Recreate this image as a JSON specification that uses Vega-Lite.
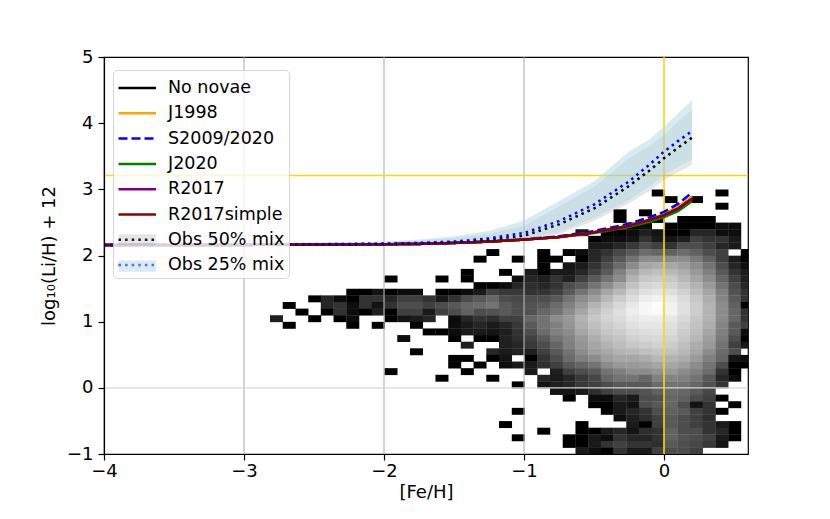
{
  "$schema": "https://vega.github.io/schema/vega-lite/v6.json",
  "width": 644,
  "height": 397,
  "autosize": {"type": "none"},
  "padding": {"left": 104, "top": 57, "right": 82, "bottom": 65},
  "config": {
    "font": "DejaVu Sans",
    "view": {"stroke": "#000000", "strokeWidth": 1.2},
    "axis": {
      "grid": false,
      "domainColor": "#000000",
      "domainWidth": 1.2,
      "tickColor": "#000000",
      "tickWidth": 1.2,
      "tickSize": 6,
      "labelFontSize": 18,
      "labelColor": "#000000",
      "labelFlush": false,
      "titleFontSize": 18,
      "titleFontWeight": "normal",
      "titleColor": "#000000"
    }
  },
  "datasets": {
    "cells": [
      {"x": -0.091, "y": 2.9, "v": 0}, {"x": 0.364, "y": 2.9, "v": 0},
      {"x": 0, "y": 2.8, "v": 0}, {"x": 0.182, "y": 2.8, "v": 0},
      {"x": 0.364, "y": 2.7, "v": 0},
      {"x": -0.364, "y": 2.6, "v": 0}, {"x": -0.182, "y": 2.6, "v": 0},
      {"x": -0.364, "y": 2.5, "v": 0}, {"x": -0.091, "y": 2.5, "v": 0}, {"x": 0.091, "y": 2.5, "v": 0}, {"x": 0.182, "y": 2.5, "v": 0}, {"x": 0.273, "y": 2.5, "v": 0},
      {"x": -0.273, "y": 2.4, "v": 0}, {"x": -0.182, "y": 2.4, "v": 0.05}, {"x": 0, "y": 2.4, "v": 0}, {"x": 0.091, "y": 2.4, "v": 0}, {"x": 0.182, "y": 2.4, "v": 0}, {"x": 0.273, "y": 2.4, "v": 0}, {"x": 0.364, "y": 2.4, "v": 0.05}, {"x": 0.455, "y": 2.4, "v": 0.05},
      {"x": -0.636, "y": 2.3, "v": 0.1}, {"x": -0.455, "y": 2.3, "v": 0}, {"x": -0.364, "y": 2.3, "v": 0}, {"x": -0.273, "y": 2.3, "v": 0.05}, {"x": -0.182, "y": 2.3, "v": 0.12}, {"x": -0.091, "y": 2.3, "v": 0.08}, {"x": 0, "y": 2.3, "v": 0}, {"x": 0.091, "y": 2.3, "v": 0}, {"x": 0.182, "y": 2.3, "v": 0.15}, {"x": 0.273, "y": 2.3, "v": 0.15}, {"x": 0.364, "y": 2.3, "v": 0.05}, {"x": 0.455, "y": 2.3, "v": 0.05},
      {"x": -0.545, "y": 2.2, "v": 0}, {"x": -0.455, "y": 2.2, "v": 0.05}, {"x": -0.364, "y": 2.2, "v": 0.05}, {"x": -0.273, "y": 2.2, "v": 0.08}, {"x": -0.182, "y": 2.2, "v": 0.2}, {"x": -0.091, "y": 2.2, "v": 0.1}, {"x": 0, "y": 2.2, "v": 0.08}, {"x": 0.091, "y": 2.2, "v": 0.12}, {"x": 0.182, "y": 2.2, "v": 0.25}, {"x": 0.273, "y": 2.2, "v": 0.2}, {"x": 0.364, "y": 2.2, "v": 0.2}, {"x": 0.455, "y": 2.2, "v": 0.1},
      {"x": -0.545, "y": 2.1, "v": 0.1}, {"x": -0.455, "y": 2.1, "v": 0.1}, {"x": -0.364, "y": 2.1, "v": 0.15}, {"x": -0.273, "y": 2.1, "v": 0.22}, {"x": -0.182, "y": 2.1, "v": 0.3}, {"x": -0.091, "y": 2.1, "v": 0.25}, {"x": 0, "y": 2.1, "v": 0.2}, {"x": 0.091, "y": 2.1, "v": 0.3}, {"x": 0.182, "y": 2.1, "v": 0.3}, {"x": 0.273, "y": 2.1, "v": 0.25}, {"x": 0.364, "y": 2.1, "v": 0.15}, {"x": 0.455, "y": 2.1, "v": 0.1},
      {"x": -1.273, "y": 2.0, "v": 0}, {"x": -0.909, "y": 2.0, "v": 0}, {"x": -0.727, "y": 2.0, "v": 0}, {"x": -0.636, "y": 2.0, "v": 0.05}, {"x": -0.545, "y": 2.0, "v": 0.15}, {"x": -0.455, "y": 2.0, "v": 0.2}, {"x": -0.364, "y": 2.0, "v": 0.28}, {"x": -0.273, "y": 2.0, "v": 0.35}, {"x": -0.182, "y": 2.0, "v": 0.42}, {"x": -0.091, "y": 2.0, "v": 0.4}, {"x": 0, "y": 2.0, "v": 0.38}, {"x": 0.091, "y": 2.0, "v": 0.42}, {"x": 0.182, "y": 2.0, "v": 0.38}, {"x": 0.273, "y": 2.0, "v": 0.3}, {"x": 0.364, "y": 2.0, "v": 0.25}, {"x": 0.545, "y": 2.0, "v": 0},
      {"x": -1.364, "y": 1.9, "v": 0}, {"x": -1.091, "y": 1.9, "v": 0}, {"x": -0.909, "y": 1.9, "v": 0}, {"x": -0.818, "y": 1.9, "v": 0}, {"x": -0.636, "y": 1.9, "v": 0}, {"x": -0.545, "y": 1.9, "v": 0.15}, {"x": -0.455, "y": 1.9, "v": 0.25}, {"x": -0.364, "y": 1.9, "v": 0.35}, {"x": -0.273, "y": 1.9, "v": 0.45}, {"x": -0.182, "y": 1.9, "v": 0.55}, {"x": -0.091, "y": 1.9, "v": 0.55}, {"x": 0, "y": 1.9, "v": 0.55}, {"x": 0.091, "y": 1.9, "v": 0.55}, {"x": 0.182, "y": 1.9, "v": 0.48}, {"x": 0.273, "y": 1.9, "v": 0.38}, {"x": 0.364, "y": 1.9, "v": 0.25}, {"x": 0.455, "y": 1.9, "v": 0.1}, {"x": 0.545, "y": 1.9, "v": 0},
      {"x": -0.909, "y": 1.8, "v": 0}, {"x": -0.727, "y": 1.8, "v": 0.08}, {"x": -0.636, "y": 1.8, "v": 0.1}, {"x": -0.545, "y": 1.8, "v": 0.2}, {"x": -0.455, "y": 1.8, "v": 0.3}, {"x": -0.364, "y": 1.8, "v": 0.42}, {"x": -0.273, "y": 1.8, "v": 0.55}, {"x": -0.182, "y": 1.8, "v": 0.65}, {"x": -0.091, "y": 1.8, "v": 0.68}, {"x": 0, "y": 1.8, "v": 0.66}, {"x": 0.091, "y": 1.8, "v": 0.62}, {"x": 0.182, "y": 1.8, "v": 0.55}, {"x": 0.273, "y": 1.8, "v": 0.45}, {"x": 0.364, "y": 1.8, "v": 0.3}, {"x": 0.455, "y": 1.8, "v": 0.15}, {"x": 0.545, "y": 1.8, "v": 0.05},
      {"x": -1.455, "y": 1.7, "v": 0}, {"x": -1.182, "y": 1.7, "v": 0}, {"x": -1.0, "y": 1.7, "v": 0.1}, {"x": -0.909, "y": 1.7, "v": 0}, {"x": -0.818, "y": 1.7, "v": 0.1}, {"x": -0.727, "y": 1.7, "v": 0.1}, {"x": -0.636, "y": 1.7, "v": 0.15}, {"x": -0.545, "y": 1.7, "v": 0.25}, {"x": -0.455, "y": 1.7, "v": 0.35}, {"x": -0.364, "y": 1.7, "v": 0.5}, {"x": -0.273, "y": 1.7, "v": 0.64}, {"x": -0.182, "y": 1.7, "v": 0.72}, {"x": -0.091, "y": 1.7, "v": 0.75}, {"x": 0, "y": 1.7, "v": 0.72}, {"x": 0.091, "y": 1.7, "v": 0.68}, {"x": 0.182, "y": 1.7, "v": 0.6}, {"x": 0.273, "y": 1.7, "v": 0.5}, {"x": 0.364, "y": 1.7, "v": 0.35}, {"x": 0.455, "y": 1.7, "v": 0.2}, {"x": 0.545, "y": 1.7, "v": 0.1},
      {"x": -2.0, "y": 1.6, "v": 0}, {"x": -1.636, "y": 1.6, "v": 0}, {"x": -1.455, "y": 1.6, "v": 0}, {"x": -1.091, "y": 1.6, "v": 0.05}, {"x": -1.0, "y": 1.6, "v": 0.15}, {"x": -0.909, "y": 1.6, "v": 0.12}, {"x": -0.818, "y": 1.6, "v": 0.2}, {"x": -0.727, "y": 1.6, "v": 0.12}, {"x": -0.636, "y": 1.6, "v": 0.25}, {"x": -0.545, "y": 1.6, "v": 0.35}, {"x": -0.455, "y": 1.6, "v": 0.45}, {"x": -0.364, "y": 1.6, "v": 0.55}, {"x": -0.273, "y": 1.6, "v": 0.7}, {"x": -0.182, "y": 1.6, "v": 0.78}, {"x": -0.091, "y": 1.6, "v": 0.8}, {"x": 0, "y": 1.6, "v": 0.78}, {"x": 0.091, "y": 1.6, "v": 0.72}, {"x": 0.182, "y": 1.6, "v": 0.65}, {"x": 0.273, "y": 1.6, "v": 0.55}, {"x": 0.364, "y": 1.6, "v": 0.4}, {"x": 0.455, "y": 1.6, "v": 0.25}, {"x": 0.545, "y": 1.6, "v": 0.12},
      {"x": -1.364, "y": 1.5, "v": 0}, {"x": -1.273, "y": 1.5, "v": 0}, {"x": -1.182, "y": 1.5, "v": 0.05}, {"x": -1.091, "y": 1.5, "v": 0.15}, {"x": -1.0, "y": 1.5, "v": 0.18}, {"x": -0.909, "y": 1.5, "v": 0.15}, {"x": -0.818, "y": 1.5, "v": 0.2}, {"x": -0.727, "y": 1.5, "v": 0.3}, {"x": -0.636, "y": 1.5, "v": 0.35}, {"x": -0.545, "y": 1.5, "v": 0.45}, {"x": -0.455, "y": 1.5, "v": 0.55}, {"x": -0.364, "y": 1.5, "v": 0.65}, {"x": -0.273, "y": 1.5, "v": 0.76}, {"x": -0.182, "y": 1.5, "v": 0.83}, {"x": -0.091, "y": 1.5, "v": 0.85}, {"x": 0, "y": 1.5, "v": 0.82}, {"x": 0.091, "y": 1.5, "v": 0.77}, {"x": 0.182, "y": 1.5, "v": 0.7}, {"x": 0.273, "y": 1.5, "v": 0.6}, {"x": 0.364, "y": 1.5, "v": 0.45}, {"x": 0.455, "y": 1.5, "v": 0.3}, {"x": 0.545, "y": 1.5, "v": 0.15},
      {"x": -2.273, "y": 1.4, "v": 0}, {"x": -2.182, "y": 1.4, "v": 0}, {"x": -2.091, "y": 1.4, "v": 0.08}, {"x": -2.0, "y": 1.4, "v": 0}, {"x": -1.909, "y": 1.4, "v": 0.05}, {"x": -1.818, "y": 1.4, "v": 0.05}, {"x": -1.636, "y": 1.4, "v": 0}, {"x": -1.545, "y": 1.4, "v": 0}, {"x": -1.455, "y": 1.4, "v": 0.05}, {"x": -1.364, "y": 1.4, "v": 0.1}, {"x": -1.273, "y": 1.4, "v": 0.25}, {"x": -1.182, "y": 1.4, "v": 0.22}, {"x": -1.091, "y": 1.4, "v": 0.22}, {"x": -1.0, "y": 1.4, "v": 0.2}, {"x": -0.909, "y": 1.4, "v": 0.2}, {"x": -0.818, "y": 1.4, "v": 0.25}, {"x": -0.727, "y": 1.4, "v": 0.35}, {"x": -0.636, "y": 1.4, "v": 0.45}, {"x": -0.545, "y": 1.4, "v": 0.55}, {"x": -0.455, "y": 1.4, "v": 0.65}, {"x": -0.364, "y": 1.4, "v": 0.72}, {"x": -0.273, "y": 1.4, "v": 0.82}, {"x": -0.182, "y": 1.4, "v": 0.88}, {"x": -0.091, "y": 1.4, "v": 0.9}, {"x": 0, "y": 1.4, "v": 0.87}, {"x": 0.091, "y": 1.4, "v": 0.82}, {"x": 0.182, "y": 1.4, "v": 0.74}, {"x": 0.273, "y": 1.4, "v": 0.65}, {"x": 0.364, "y": 1.4, "v": 0.5}, {"x": 0.455, "y": 1.4, "v": 0.32}, {"x": 0.545, "y": 1.4, "v": 0.2},
      {"x": -2.545, "y": 1.3, "v": 0}, {"x": -2.455, "y": 1.3, "v": 0.15}, {"x": -2.364, "y": 1.3, "v": 0.05}, {"x": -2.273, "y": 1.3, "v": 0}, {"x": -2.182, "y": 1.3, "v": 0.2}, {"x": -2.091, "y": 1.3, "v": 0.2}, {"x": -2.0, "y": 1.3, "v": 0.15}, {"x": -1.909, "y": 1.3, "v": 0.25}, {"x": -1.818, "y": 1.3, "v": 0.25}, {"x": -1.727, "y": 1.3, "v": 0.2}, {"x": -1.636, "y": 1.3, "v": 0.1}, {"x": -1.545, "y": 1.3, "v": 0.2}, {"x": -1.455, "y": 1.3, "v": 0.3}, {"x": -1.364, "y": 1.3, "v": 0.35}, {"x": -1.273, "y": 1.3, "v": 0.4}, {"x": -1.182, "y": 1.3, "v": 0.3}, {"x": -1.091, "y": 1.3, "v": 0.28}, {"x": -1.0, "y": 1.3, "v": 0.3}, {"x": -0.909, "y": 1.3, "v": 0.3}, {"x": -0.818, "y": 1.3, "v": 0.35}, {"x": -0.727, "y": 1.3, "v": 0.45}, {"x": -0.636, "y": 1.3, "v": 0.55}, {"x": -0.545, "y": 1.3, "v": 0.62}, {"x": -0.455, "y": 1.3, "v": 0.72}, {"x": -0.364, "y": 1.3, "v": 0.8}, {"x": -0.273, "y": 1.3, "v": 0.87}, {"x": -0.182, "y": 1.3, "v": 0.93}, {"x": -0.091, "y": 1.3, "v": 0.95}, {"x": 0, "y": 1.3, "v": 0.92}, {"x": 0.091, "y": 1.3, "v": 0.86}, {"x": 0.182, "y": 1.3, "v": 0.78}, {"x": 0.273, "y": 1.3, "v": 0.68}, {"x": 0.364, "y": 1.3, "v": 0.52}, {"x": 0.455, "y": 1.3, "v": 0.35}, {"x": 0.545, "y": 1.3, "v": 0.2},
      {"x": -2.727, "y": 1.2, "v": 0}, {"x": -2.455, "y": 1.2, "v": 0.15}, {"x": -2.364, "y": 1.2, "v": 0.2}, {"x": -2.273, "y": 1.2, "v": 0.05}, {"x": -2.182, "y": 1.2, "v": 0.2}, {"x": -2.091, "y": 1.2, "v": 0.08}, {"x": -2.0, "y": 1.2, "v": 0.2}, {"x": -1.909, "y": 1.2, "v": 0.3}, {"x": -1.818, "y": 1.2, "v": 0.3}, {"x": -1.727, "y": 1.2, "v": 0.25}, {"x": -1.636, "y": 1.2, "v": 0.3}, {"x": -1.545, "y": 1.2, "v": 0.35}, {"x": -1.455, "y": 1.2, "v": 0.4}, {"x": -1.364, "y": 1.2, "v": 0.42}, {"x": -1.273, "y": 1.2, "v": 0.45}, {"x": -1.182, "y": 1.2, "v": 0.35}, {"x": -1.091, "y": 1.2, "v": 0.3}, {"x": -1.0, "y": 1.2, "v": 0.32}, {"x": -0.909, "y": 1.2, "v": 0.35}, {"x": -0.818, "y": 1.2, "v": 0.42}, {"x": -0.727, "y": 1.2, "v": 0.5}, {"x": -0.636, "y": 1.2, "v": 0.6}, {"x": -0.545, "y": 1.2, "v": 0.7}, {"x": -0.455, "y": 1.2, "v": 0.78}, {"x": -0.364, "y": 1.2, "v": 0.85}, {"x": -0.273, "y": 1.2, "v": 0.91}, {"x": -0.182, "y": 1.2, "v": 0.97}, {"x": -0.091, "y": 1.2, "v": 1.0}, {"x": 0, "y": 1.2, "v": 0.95}, {"x": 0.091, "y": 1.2, "v": 0.88}, {"x": 0.182, "y": 1.2, "v": 0.8}, {"x": 0.273, "y": 1.2, "v": 0.7}, {"x": 0.364, "y": 1.2, "v": 0.55}, {"x": 0.455, "y": 1.2, "v": 0.38}, {"x": 0.545, "y": 1.2, "v": 0},
      {"x": -2.636, "y": 1.1, "v": 0}, {"x": -2.455, "y": 1.1, "v": 0}, {"x": -2.364, "y": 1.1, "v": 0.2}, {"x": -2.273, "y": 1.1, "v": 0.05}, {"x": -2.182, "y": 1.1, "v": 0}, {"x": -2.091, "y": 1.1, "v": 0.12}, {"x": -2.0, "y": 1.1, "v": 0}, {"x": -1.909, "y": 1.1, "v": 0.25}, {"x": -1.818, "y": 1.1, "v": 0.25}, {"x": -1.727, "y": 1.1, "v": 0.1}, {"x": -1.636, "y": 1.1, "v": 0.25}, {"x": -1.545, "y": 1.1, "v": 0.3}, {"x": -1.455, "y": 1.1, "v": 0.38}, {"x": -1.364, "y": 1.1, "v": 0.3}, {"x": -1.273, "y": 1.1, "v": 0.32}, {"x": -1.182, "y": 1.1, "v": 0.35}, {"x": -1.091, "y": 1.1, "v": 0.3}, {"x": -1.0, "y": 1.1, "v": 0.32}, {"x": -0.909, "y": 1.1, "v": 0.4}, {"x": -0.818, "y": 1.1, "v": 0.45}, {"x": -0.727, "y": 1.1, "v": 0.55}, {"x": -0.636, "y": 1.1, "v": 0.65}, {"x": -0.545, "y": 1.1, "v": 0.75}, {"x": -0.455, "y": 1.1, "v": 0.82}, {"x": -0.364, "y": 1.1, "v": 0.88}, {"x": -0.273, "y": 1.1, "v": 0.93}, {"x": -0.182, "y": 1.1, "v": 0.97}, {"x": -0.091, "y": 1.1, "v": 0.98}, {"x": 0, "y": 1.1, "v": 0.95}, {"x": 0.091, "y": 1.1, "v": 0.88}, {"x": 0.182, "y": 1.1, "v": 0.8}, {"x": 0.273, "y": 1.1, "v": 0.7}, {"x": 0.364, "y": 1.1, "v": 0.55}, {"x": 0.455, "y": 1.1, "v": 0.4}, {"x": 0.545, "y": 1.1, "v": 0.2},
      {"x": -2.818, "y": 1.0, "v": 0.12}, {"x": -2.545, "y": 1.0, "v": 0}, {"x": -2.364, "y": 1.0, "v": 0}, {"x": -2.273, "y": 1.0, "v": 0.05}, {"x": -2.0, "y": 1.0, "v": 0}, {"x": -1.909, "y": 1.0, "v": 0.08}, {"x": -1.818, "y": 1.0, "v": 0.1}, {"x": -1.727, "y": 1.0, "v": 0.15}, {"x": -1.545, "y": 1.0, "v": 0.05}, {"x": -1.455, "y": 1.0, "v": 0.15}, {"x": -1.364, "y": 1.0, "v": 0.2}, {"x": -1.273, "y": 1.0, "v": 0.18}, {"x": -1.182, "y": 1.0, "v": 0.25}, {"x": -1.091, "y": 1.0, "v": 0.25}, {"x": -1.0, "y": 1.0, "v": 0.4}, {"x": -0.909, "y": 1.0, "v": 0.45}, {"x": -0.818, "y": 1.0, "v": 0.55}, {"x": -0.727, "y": 1.0, "v": 0.6}, {"x": -0.636, "y": 1.0, "v": 0.7}, {"x": -0.545, "y": 1.0, "v": 0.78}, {"x": -0.455, "y": 1.0, "v": 0.83}, {"x": -0.364, "y": 1.0, "v": 0.86}, {"x": -0.273, "y": 1.0, "v": 0.91}, {"x": -0.182, "y": 1.0, "v": 0.93}, {"x": -0.091, "y": 1.0, "v": 0.93}, {"x": 0, "y": 1.0, "v": 0.9}, {"x": 0.091, "y": 1.0, "v": 0.85}, {"x": 0.182, "y": 1.0, "v": 0.78}, {"x": 0.273, "y": 1.0, "v": 0.7}, {"x": 0.364, "y": 1.0, "v": 0.55}, {"x": 0.455, "y": 1.0, "v": 0.4}, {"x": 0.545, "y": 1.0, "v": 0.2},
      {"x": -2.727, "y": 0.9, "v": 0}, {"x": -2.273, "y": 0.9, "v": 0}, {"x": -2.091, "y": 0.9, "v": 0}, {"x": -1.818, "y": 0.9, "v": 0}, {"x": -1.545, "y": 0.9, "v": 0.05}, {"x": -1.455, "y": 0.9, "v": 0.1}, {"x": -1.364, "y": 0.9, "v": 0.15}, {"x": -1.273, "y": 0.9, "v": 0.1}, {"x": -1.182, "y": 0.9, "v": 0.15}, {"x": -1.091, "y": 0.9, "v": 0.22}, {"x": -1.0, "y": 0.9, "v": 0.35}, {"x": -0.909, "y": 0.9, "v": 0.45}, {"x": -0.818, "y": 0.9, "v": 0.5}, {"x": -0.727, "y": 0.9, "v": 0.58}, {"x": -0.636, "y": 0.9, "v": 0.68}, {"x": -0.545, "y": 0.9, "v": 0.75}, {"x": -0.455, "y": 0.9, "v": 0.8}, {"x": -0.364, "y": 0.9, "v": 0.83}, {"x": -0.273, "y": 0.9, "v": 0.88}, {"x": -0.182, "y": 0.9, "v": 0.9}, {"x": -0.091, "y": 0.9, "v": 0.9}, {"x": 0, "y": 0.9, "v": 0.88}, {"x": 0.091, "y": 0.9, "v": 0.82}, {"x": 0.182, "y": 0.9, "v": 0.76}, {"x": 0.273, "y": 0.9, "v": 0.68}, {"x": 0.364, "y": 0.9, "v": 0.52}, {"x": 0.455, "y": 0.9, "v": 0.35}, {"x": 0.545, "y": 0.9, "v": 0.25},
      {"x": -1.727, "y": 0.8, "v": 0}, {"x": -1.636, "y": 0.8, "v": 0}, {"x": -1.545, "y": 0.8, "v": 0.05}, {"x": -1.455, "y": 0.8, "v": 0.1}, {"x": -1.364, "y": 0.8, "v": 0.1}, {"x": -1.273, "y": 0.8, "v": 0.08}, {"x": -1.182, "y": 0.8, "v": 0.12}, {"x": -1.091, "y": 0.8, "v": 0.2}, {"x": -1.0, "y": 0.8, "v": 0.3}, {"x": -0.909, "y": 0.8, "v": 0.42}, {"x": -0.818, "y": 0.8, "v": 0.5}, {"x": -0.727, "y": 0.8, "v": 0.55}, {"x": -0.636, "y": 0.8, "v": 0.65}, {"x": -0.545, "y": 0.8, "v": 0.72}, {"x": -0.455, "y": 0.8, "v": 0.78}, {"x": -0.364, "y": 0.8, "v": 0.8}, {"x": -0.273, "y": 0.8, "v": 0.85}, {"x": -0.182, "y": 0.8, "v": 0.87}, {"x": -0.091, "y": 0.8, "v": 0.88}, {"x": 0, "y": 0.8, "v": 0.86}, {"x": 0.091, "y": 0.8, "v": 0.8}, {"x": 0.182, "y": 0.8, "v": 0.74}, {"x": 0.273, "y": 0.8, "v": 0.65}, {"x": 0.364, "y": 0.8, "v": 0.5}, {"x": 0.455, "y": 0.8, "v": 0.35}, {"x": 0.545, "y": 0.8, "v": 0.05},
      {"x": -1.909, "y": 0.7, "v": 0.05}, {"x": -1.545, "y": 0.7, "v": 0}, {"x": -1.364, "y": 0.7, "v": 0}, {"x": -1.273, "y": 0.7, "v": 0}, {"x": -1.182, "y": 0.7, "v": 0.13}, {"x": -1.091, "y": 0.7, "v": 0.18}, {"x": -1.0, "y": 0.7, "v": 0.25}, {"x": -0.909, "y": 0.7, "v": 0.35}, {"x": -0.818, "y": 0.7, "v": 0.45}, {"x": -0.727, "y": 0.7, "v": 0.52}, {"x": -0.636, "y": 0.7, "v": 0.6}, {"x": -0.545, "y": 0.7, "v": 0.68}, {"x": -0.455, "y": 0.7, "v": 0.74}, {"x": -0.364, "y": 0.7, "v": 0.77}, {"x": -0.273, "y": 0.7, "v": 0.82}, {"x": -0.182, "y": 0.7, "v": 0.84}, {"x": -0.091, "y": 0.7, "v": 0.85}, {"x": 0, "y": 0.7, "v": 0.83}, {"x": 0.091, "y": 0.7, "v": 0.78}, {"x": 0.182, "y": 0.7, "v": 0.72}, {"x": 0.273, "y": 0.7, "v": 0.62}, {"x": 0.364, "y": 0.7, "v": 0.48}, {"x": 0.455, "y": 0.7, "v": 0.3}, {"x": 0.545, "y": 0.7, "v": 0},
      {"x": -1.455, "y": 0.6, "v": 0.12}, {"x": -1.182, "y": 0.6, "v": 0.12}, {"x": -1.091, "y": 0.6, "v": 0.15}, {"x": -1.0, "y": 0.6, "v": 0.22}, {"x": -0.909, "y": 0.6, "v": 0.3}, {"x": -0.818, "y": 0.6, "v": 0.4}, {"x": -0.727, "y": 0.6, "v": 0.5}, {"x": -0.636, "y": 0.6, "v": 0.58}, {"x": -0.545, "y": 0.6, "v": 0.65}, {"x": -0.455, "y": 0.6, "v": 0.7}, {"x": -0.364, "y": 0.6, "v": 0.74}, {"x": -0.273, "y": 0.6, "v": 0.78}, {"x": -0.182, "y": 0.6, "v": 0.8}, {"x": -0.091, "y": 0.6, "v": 0.82}, {"x": 0, "y": 0.6, "v": 0.8}, {"x": 0.091, "y": 0.6, "v": 0.75}, {"x": 0.182, "y": 0.6, "v": 0.68}, {"x": 0.273, "y": 0.6, "v": 0.6}, {"x": 0.364, "y": 0.6, "v": 0.45}, {"x": 0.455, "y": 0.6, "v": 0.25}, {"x": 0.545, "y": 0.6, "v": 0.1},
      {"x": -1.818, "y": 0.5, "v": 0}, {"x": -1.273, "y": 0.5, "v": 0.15}, {"x": -1.182, "y": 0.5, "v": 0.1}, {"x": -1.091, "y": 0.5, "v": 0.13}, {"x": -1.0, "y": 0.5, "v": 0.12}, {"x": -0.909, "y": 0.5, "v": 0.25}, {"x": -0.818, "y": 0.5, "v": 0.35}, {"x": -0.727, "y": 0.5, "v": 0.45}, {"x": -0.636, "y": 0.5, "v": 0.55}, {"x": -0.545, "y": 0.5, "v": 0.62}, {"x": -0.455, "y": 0.5, "v": 0.66}, {"x": -0.364, "y": 0.5, "v": 0.7}, {"x": -0.273, "y": 0.5, "v": 0.72}, {"x": -0.182, "y": 0.5, "v": 0.75}, {"x": -0.091, "y": 0.5, "v": 0.77}, {"x": 0, "y": 0.5, "v": 0.76}, {"x": 0.091, "y": 0.5, "v": 0.72}, {"x": 0.182, "y": 0.5, "v": 0.65}, {"x": 0.273, "y": 0.5, "v": 0.55}, {"x": 0.364, "y": 0.5, "v": 0.42}, {"x": 0.455, "y": 0.5, "v": 0.3},
      {"x": -1.545, "y": 0.4, "v": 0}, {"x": -1.455, "y": 0.4, "v": 0}, {"x": -1.273, "y": 0.4, "v": 0}, {"x": -1.182, "y": 0.4, "v": 0.08}, {"x": -1.0, "y": 0.4, "v": 0}, {"x": -0.909, "y": 0.4, "v": 0.2}, {"x": -0.818, "y": 0.4, "v": 0.3}, {"x": -0.727, "y": 0.4, "v": 0.42}, {"x": -0.636, "y": 0.4, "v": 0.5}, {"x": -0.545, "y": 0.4, "v": 0.55}, {"x": -0.455, "y": 0.4, "v": 0.62}, {"x": -0.364, "y": 0.4, "v": 0.65}, {"x": -0.273, "y": 0.4, "v": 0.65}, {"x": -0.182, "y": 0.4, "v": 0.68}, {"x": -0.091, "y": 0.4, "v": 0.72}, {"x": 0, "y": 0.4, "v": 0.7}, {"x": 0.091, "y": 0.4, "v": 0.68}, {"x": 0.182, "y": 0.4, "v": 0.6}, {"x": 0.273, "y": 0.4, "v": 0.5}, {"x": 0.364, "y": 0.4, "v": 0.4}, {"x": 0.455, "y": 0.4, "v": 0.08}, {"x": 0.545, "y": 0.4, "v": 0.05},
      {"x": -1.545, "y": 0.3, "v": 0}, {"x": -1.364, "y": 0.3, "v": 0}, {"x": -1.182, "y": 0.3, "v": 0.05}, {"x": -1.091, "y": 0.3, "v": 0.1}, {"x": -1.0, "y": 0.3, "v": 0.1}, {"x": -0.909, "y": 0.3, "v": 0.18}, {"x": -0.818, "y": 0.3, "v": 0.25}, {"x": -0.727, "y": 0.3, "v": 0.35}, {"x": -0.636, "y": 0.3, "v": 0.4}, {"x": -0.545, "y": 0.3, "v": 0.45}, {"x": -0.455, "y": 0.3, "v": 0.55}, {"x": -0.364, "y": 0.3, "v": 0.6}, {"x": -0.273, "y": 0.3, "v": 0.6}, {"x": -0.182, "y": 0.3, "v": 0.62}, {"x": -0.091, "y": 0.3, "v": 0.65}, {"x": 0, "y": 0.3, "v": 0.65}, {"x": 0.091, "y": 0.3, "v": 0.62}, {"x": 0.182, "y": 0.3, "v": 0.55}, {"x": 0.273, "y": 0.3, "v": 0.45}, {"x": 0.364, "y": 0.3, "v": 0.3}, {"x": 0.455, "y": 0.3, "v": 0}, {"x": 0.545, "y": 0.3, "v": 0},
      {"x": -2.0, "y": 0.2, "v": 0}, {"x": -1.455, "y": 0.2, "v": 0}, {"x": -1.0, "y": 0.2, "v": 0.1}, {"x": -0.818, "y": 0.2, "v": 0.12}, {"x": -0.727, "y": 0.2, "v": 0.25}, {"x": -0.636, "y": 0.2, "v": 0.3}, {"x": -0.545, "y": 0.2, "v": 0.35}, {"x": -0.455, "y": 0.2, "v": 0.45}, {"x": -0.364, "y": 0.2, "v": 0.5}, {"x": -0.273, "y": 0.2, "v": 0.55}, {"x": -0.182, "y": 0.2, "v": 0.55}, {"x": -0.091, "y": 0.2, "v": 0.58}, {"x": 0, "y": 0.2, "v": 0.6}, {"x": 0.091, "y": 0.2, "v": 0.55}, {"x": 0.182, "y": 0.2, "v": 0.5}, {"x": 0.273, "y": 0.2, "v": 0.42}, {"x": 0.364, "y": 0.2, "v": 0.2}, {"x": 0.455, "y": 0.2, "v": 0},
      {"x": -1.636, "y": 0.1, "v": 0}, {"x": -1.273, "y": 0.1, "v": 0}, {"x": -0.909, "y": 0.1, "v": 0.15}, {"x": -0.818, "y": 0.1, "v": 0.1}, {"x": -0.727, "y": 0.1, "v": 0.15}, {"x": -0.636, "y": 0.1, "v": 0.22}, {"x": -0.545, "y": 0.1, "v": 0.28}, {"x": -0.455, "y": 0.1, "v": 0.4}, {"x": -0.364, "y": 0.1, "v": 0.45}, {"x": -0.273, "y": 0.1, "v": 0.45}, {"x": -0.182, "y": 0.1, "v": 0.4}, {"x": -0.091, "y": 0.1, "v": 0.5}, {"x": 0, "y": 0.1, "v": 0.52}, {"x": 0.091, "y": 0.1, "v": 0.5}, {"x": 0.182, "y": 0.1, "v": 0.45}, {"x": 0.273, "y": 0.1, "v": 0.35}, {"x": 0.364, "y": 0.1, "v": 0.15}, {"x": 0.455, "y": 0.1, "v": 0.05},
      {"x": -1.091, "y": 0.0, "v": 0}, {"x": -0.909, "y": 0.0, "v": 0.08}, {"x": -0.818, "y": 0.0, "v": 0.12}, {"x": -0.727, "y": 0.0, "v": 0.15}, {"x": -0.636, "y": 0.0, "v": 0.22}, {"x": -0.545, "y": 0.0, "v": 0.25}, {"x": -0.455, "y": 0.0, "v": 0.3}, {"x": -0.364, "y": 0.0, "v": 0.35}, {"x": -0.273, "y": 0.0, "v": 0.35}, {"x": -0.182, "y": 0.0, "v": 0.35}, {"x": -0.091, "y": 0.0, "v": 0.42}, {"x": 0, "y": 0.0, "v": 0.45}, {"x": 0.091, "y": 0.0, "v": 0.45}, {"x": 0.182, "y": 0.0, "v": 0.4}, {"x": 0.273, "y": 0.0, "v": 0.32}, {"x": 0.364, "y": 0.0, "v": 0.2},
      {"x": -0.818, "y": -0.1, "v": 0.08}, {"x": -0.727, "y": -0.1, "v": 0.08}, {"x": -0.636, "y": -0.1, "v": 0.1}, {"x": -0.545, "y": -0.1, "v": 0.18}, {"x": -0.455, "y": -0.1, "v": 0.25}, {"x": -0.364, "y": -0.1, "v": 0.3}, {"x": -0.273, "y": -0.1, "v": 0.3}, {"x": -0.182, "y": -0.1, "v": 0.32}, {"x": -0.091, "y": -0.1, "v": 0.38}, {"x": 0, "y": -0.1, "v": 0.42}, {"x": 0.091, "y": -0.1, "v": 0.4}, {"x": 0.182, "y": -0.1, "v": 0.35}, {"x": 0.273, "y": -0.1, "v": 0.28},
      {"x": -0.727, "y": -0.2, "v": 0}, {"x": -0.545, "y": -0.2, "v": 0.05}, {"x": -0.455, "y": -0.2, "v": 0.05}, {"x": -0.364, "y": -0.2, "v": 0.15}, {"x": -0.273, "y": -0.2, "v": 0.1}, {"x": -0.182, "y": -0.2, "v": 0.3}, {"x": -0.091, "y": -0.2, "v": 0.32}, {"x": 0, "y": -0.2, "v": 0.4}, {"x": 0.091, "y": -0.2, "v": 0.38}, {"x": 0.182, "y": -0.2, "v": 0.3}, {"x": 0.273, "y": -0.2, "v": 0.25}, {"x": 0.364, "y": -0.2, "v": 0},
      {"x": -0.545, "y": -0.3, "v": 0}, {"x": -0.455, "y": -0.3, "v": 0}, {"x": -0.364, "y": -0.3, "v": 0.1}, {"x": -0.273, "y": -0.3, "v": 0.08}, {"x": -0.182, "y": -0.3, "v": 0.3}, {"x": -0.091, "y": -0.3, "v": 0.35}, {"x": 0, "y": -0.3, "v": 0.4}, {"x": 0.091, "y": -0.3, "v": 0.3}, {"x": 0.182, "y": -0.3, "v": 0.08}, {"x": 0.273, "y": -0.3, "v": 0.2}, {"x": 0.455, "y": -0.3, "v": 0},
      {"x": -1.091, "y": -0.4, "v": 0}, {"x": -0.455, "y": -0.4, "v": 0}, {"x": -0.364, "y": -0.4, "v": 0.1}, {"x": -0.273, "y": -0.4, "v": 0.15}, {"x": -0.182, "y": -0.4, "v": 0.2}, {"x": -0.091, "y": -0.4, "v": 0.3}, {"x": 0, "y": -0.4, "v": 0.38}, {"x": 0.091, "y": -0.4, "v": 0.35}, {"x": 0.182, "y": -0.4, "v": 0.25}, {"x": 0.273, "y": -0.4, "v": 0.2}, {"x": 0.364, "y": -0.4, "v": 0},
      {"x": -0.364, "y": -0.5, "v": 0.05}, {"x": -0.273, "y": -0.5, "v": 0.12}, {"x": -0.182, "y": -0.5, "v": 0.18}, {"x": -0.091, "y": -0.5, "v": 0.25}, {"x": 0, "y": -0.5, "v": 0.35}, {"x": 0.091, "y": -0.5, "v": 0.3}, {"x": 0.182, "y": -0.5, "v": 0.25}, {"x": 0.273, "y": -0.5, "v": 0.18},
      {"x": -1.182, "y": -0.6, "v": 0}, {"x": -0.636, "y": -0.6, "v": 0}, {"x": -0.273, "y": -0.6, "v": 0.1}, {"x": -0.182, "y": -0.6, "v": 0}, {"x": -0.091, "y": -0.6, "v": 0.25}, {"x": 0, "y": -0.6, "v": 0.35}, {"x": 0.091, "y": -0.6, "v": 0.3}, {"x": 0.182, "y": -0.6, "v": 0.25}, {"x": 0.273, "y": -0.6, "v": 0.2}, {"x": 0.364, "y": -0.6, "v": 0.1}, {"x": 0.455, "y": -0.6, "v": 0},
      {"x": -0.909, "y": -0.7, "v": 0}, {"x": -0.636, "y": -0.7, "v": 0}, {"x": -0.545, "y": -0.7, "v": 0}, {"x": -0.455, "y": -0.7, "v": 0.1}, {"x": -0.364, "y": -0.7, "v": 0.15}, {"x": -0.273, "y": -0.7, "v": 0.08}, {"x": -0.182, "y": -0.7, "v": 0.18}, {"x": -0.091, "y": -0.7, "v": 0.2}, {"x": 0, "y": -0.7, "v": 0.38}, {"x": 0.091, "y": -0.7, "v": 0.3}, {"x": 0.182, "y": -0.7, "v": 0.3}, {"x": 0.273, "y": -0.7, "v": 0.2}, {"x": 0.364, "y": -0.7, "v": 0.15}, {"x": 0.455, "y": -0.7, "v": 0},
      {"x": -1.091, "y": -0.8, "v": 0}, {"x": -0.727, "y": -0.8, "v": 0}, {"x": -0.636, "y": -0.8, "v": 0}, {"x": -0.545, "y": -0.8, "v": 0.1}, {"x": -0.455, "y": -0.8, "v": 0.05}, {"x": -0.364, "y": -0.8, "v": 0.2}, {"x": -0.273, "y": -0.8, "v": 0.15}, {"x": -0.182, "y": -0.8, "v": 0.15}, {"x": -0.091, "y": -0.8, "v": 0.2}, {"x": 0, "y": -0.8, "v": 0.38}, {"x": 0.091, "y": -0.8, "v": 0.32}, {"x": 0.182, "y": -0.8, "v": 0.3}, {"x": 0.273, "y": -0.8, "v": 0.25}, {"x": 0.364, "y": -0.8, "v": 0.1}, {"x": 0.455, "y": -0.8, "v": 0},
      {"x": -0.727, "y": -0.9, "v": 0}, {"x": -0.636, "y": -0.9, "v": 0}, {"x": -0.545, "y": -0.9, "v": 0.1}, {"x": -0.455, "y": -0.9, "v": 0.2}, {"x": -0.364, "y": -0.9, "v": 0.25}, {"x": -0.273, "y": -0.9, "v": 0.2}, {"x": -0.182, "y": -0.9, "v": 0.2}, {"x": -0.091, "y": -0.9, "v": 0.18}, {"x": 0, "y": -0.9, "v": 0.35}, {"x": 0.091, "y": -0.9, "v": 0.3}, {"x": 0.182, "y": -0.9, "v": 0.28}, {"x": 0.273, "y": -0.9, "v": 0.22}, {"x": 0.364, "y": -0.9, "v": 0.08},
      {"x": -0.636, "y": -1.0, "v": 0.1}, {"x": -0.545, "y": -1.0, "v": 0.05}, {"x": -0.455, "y": -1.0, "v": 0}, {"x": -0.364, "y": -1.0, "v": 0.2}, {"x": -0.273, "y": -1.0, "v": 0.1}, {"x": -0.182, "y": -1.0, "v": 0.1}, {"x": -0.091, "y": -1.0, "v": 0.25}, {"x": 0, "y": -1.0, "v": 0.3}, {"x": 0.091, "y": -1.0, "v": 0.3}, {"x": 0.182, "y": -1.0, "v": 0.25}
    ],
    "curves": [
      {"s": "No novae", "x": -4, "y": 2.16}, {"s": "No novae", "x": -3, "y": 2.16}, {"s": "No novae", "x": -2.5, "y": 2.165}, {"s": "No novae", "x": -2, "y": 2.17}, {"s": "No novae", "x": -1.75, "y": 2.175}, {"s": "No novae", "x": -1.5, "y": 2.19}, {"s": "No novae", "x": -1.25, "y": 2.21}, {"s": "No novae", "x": -1, "y": 2.24}, {"s": "No novae", "x": -0.75, "y": 2.28}, {"s": "No novae", "x": -0.5, "y": 2.35}, {"s": "No novae", "x": -0.25, "y": 2.45}, {"s": "No novae", "x": -0.1, "y": 2.54}, {"s": "No novae", "x": 0, "y": 2.61}, {"s": "No novae", "x": 0.1, "y": 2.71}, {"s": "No novae", "x": 0.2, "y": 2.85},
      {"s": "J1998", "x": -4, "y": 2.16}, {"s": "J1998", "x": -3, "y": 2.16}, {"s": "J1998", "x": -2.5, "y": 2.165}, {"s": "J1998", "x": -2, "y": 2.17}, {"s": "J1998", "x": -1.75, "y": 2.175}, {"s": "J1998", "x": -1.5, "y": 2.19}, {"s": "J1998", "x": -1.25, "y": 2.21}, {"s": "J1998", "x": -1, "y": 2.24}, {"s": "J1998", "x": -0.75, "y": 2.28}, {"s": "J1998", "x": -0.5, "y": 2.35}, {"s": "J1998", "x": -0.25, "y": 2.45}, {"s": "J1998", "x": -0.1, "y": 2.55}, {"s": "J1998", "x": 0, "y": 2.63}, {"s": "J1998", "x": 0.1, "y": 2.74}, {"s": "J1998", "x": 0.2, "y": 2.89},
      {"s": "S2009/2020", "x": -4, "y": 2.16}, {"s": "S2009/2020", "x": -3, "y": 2.16}, {"s": "S2009/2020", "x": -2.5, "y": 2.165}, {"s": "S2009/2020", "x": -2, "y": 2.17}, {"s": "S2009/2020", "x": -1.75, "y": 2.175}, {"s": "S2009/2020", "x": -1.5, "y": 2.19}, {"s": "S2009/2020", "x": -1.25, "y": 2.21}, {"s": "S2009/2020", "x": -1, "y": 2.245}, {"s": "S2009/2020", "x": -0.75, "y": 2.29}, {"s": "S2009/2020", "x": -0.5, "y": 2.37}, {"s": "S2009/2020", "x": -0.25, "y": 2.48}, {"s": "S2009/2020", "x": -0.1, "y": 2.58}, {"s": "S2009/2020", "x": 0, "y": 2.66}, {"s": "S2009/2020", "x": 0.1, "y": 2.78}, {"s": "S2009/2020", "x": 0.2, "y": 2.95},
      {"s": "J2020", "x": -4, "y": 2.16}, {"s": "J2020", "x": -3, "y": 2.16}, {"s": "J2020", "x": -2.5, "y": 2.165}, {"s": "J2020", "x": -2, "y": 2.17}, {"s": "J2020", "x": -1.75, "y": 2.175}, {"s": "J2020", "x": -1.5, "y": 2.19}, {"s": "J2020", "x": -1.25, "y": 2.21}, {"s": "J2020", "x": -1, "y": 2.24}, {"s": "J2020", "x": -0.75, "y": 2.275}, {"s": "J2020", "x": -0.5, "y": 2.34}, {"s": "J2020", "x": -0.25, "y": 2.43}, {"s": "J2020", "x": -0.1, "y": 2.51}, {"s": "J2020", "x": 0, "y": 2.58}, {"s": "J2020", "x": 0.1, "y": 2.67}, {"s": "J2020", "x": 0.2, "y": 2.82},
      {"s": "R2017", "x": -4, "y": 2.16}, {"s": "R2017", "x": -3, "y": 2.16}, {"s": "R2017", "x": -2.5, "y": 2.165}, {"s": "R2017", "x": -2, "y": 2.17}, {"s": "R2017", "x": -1.75, "y": 2.175}, {"s": "R2017", "x": -1.5, "y": 2.19}, {"s": "R2017", "x": -1.25, "y": 2.21}, {"s": "R2017", "x": -1, "y": 2.24}, {"s": "R2017", "x": -0.75, "y": 2.28}, {"s": "R2017", "x": -0.5, "y": 2.35}, {"s": "R2017", "x": -0.25, "y": 2.45}, {"s": "R2017", "x": -0.1, "y": 2.54}, {"s": "R2017", "x": 0, "y": 2.61}, {"s": "R2017", "x": 0.1, "y": 2.71}, {"s": "R2017", "x": 0.2, "y": 2.86},
      {"s": "R2017simple", "x": -4, "y": 2.16}, {"s": "R2017simple", "x": -3, "y": 2.16}, {"s": "R2017simple", "x": -2.5, "y": 2.165}, {"s": "R2017simple", "x": -2, "y": 2.17}, {"s": "R2017simple", "x": -1.75, "y": 2.175}, {"s": "R2017simple", "x": -1.5, "y": 2.19}, {"s": "R2017simple", "x": -1.25, "y": 2.21}, {"s": "R2017simple", "x": -1, "y": 2.24}, {"s": "R2017simple", "x": -0.75, "y": 2.28}, {"s": "R2017simple", "x": -0.5, "y": 2.35}, {"s": "R2017simple", "x": -0.25, "y": 2.45}, {"s": "R2017simple", "x": -0.1, "y": 2.54}, {"s": "R2017simple", "x": 0, "y": 2.61}, {"s": "R2017simple", "x": 0.1, "y": 2.71}, {"s": "R2017simple", "x": 0.2, "y": 2.86},
      {"s": "Obs 50% mix", "x": -4, "y": 2.16}, {"s": "Obs 50% mix", "x": -3, "y": 2.16}, {"s": "Obs 50% mix", "x": -2.5, "y": 2.165}, {"s": "Obs 50% mix", "x": -2, "y": 2.175}, {"s": "Obs 50% mix", "x": -1.75, "y": 2.185}, {"s": "Obs 50% mix", "x": -1.5, "y": 2.2}, {"s": "Obs 50% mix", "x": -1.25, "y": 2.24}, {"s": "Obs 50% mix", "x": -1, "y": 2.3}, {"s": "Obs 50% mix", "x": -0.75, "y": 2.47}, {"s": "Obs 50% mix", "x": -0.5, "y": 2.71}, {"s": "Obs 50% mix", "x": -0.25, "y": 3.05}, {"s": "Obs 50% mix", "x": -0.1, "y": 3.29}, {"s": "Obs 50% mix", "x": 0, "y": 3.47}, {"s": "Obs 50% mix", "x": 0.1, "y": 3.63}, {"s": "Obs 50% mix", "x": 0.2, "y": 3.78},
      {"s": "Obs 25% mix", "x": -4, "y": 2.16}, {"s": "Obs 25% mix", "x": -3, "y": 2.16}, {"s": "Obs 25% mix", "x": -2.5, "y": 2.17}, {"s": "Obs 25% mix", "x": -2, "y": 2.18}, {"s": "Obs 25% mix", "x": -1.75, "y": 2.19}, {"s": "Obs 25% mix", "x": -1.5, "y": 2.21}, {"s": "Obs 25% mix", "x": -1.25, "y": 2.26}, {"s": "Obs 25% mix", "x": -1, "y": 2.34}, {"s": "Obs 25% mix", "x": -0.75, "y": 2.52}, {"s": "Obs 25% mix", "x": -0.5, "y": 2.77}, {"s": "Obs 25% mix", "x": -0.25, "y": 3.12}, {"s": "Obs 25% mix", "x": -0.1, "y": 3.38}, {"s": "Obs 25% mix", "x": 0, "y": 3.57}, {"s": "Obs 25% mix", "x": 0.1, "y": 3.73}, {"s": "Obs 25% mix", "x": 0.2, "y": 3.88}
    ],
    "bands": [
      {"b": "Obs 50% mix", "x": -4, "lo": 2.145, "hi": 2.175}, {"b": "Obs 50% mix", "x": -3, "lo": 2.145, "hi": 2.178}, {"b": "Obs 50% mix", "x": -2.5, "lo": 2.145, "hi": 2.183}, {"b": "Obs 50% mix", "x": -2, "lo": 2.15, "hi": 2.2}, {"b": "Obs 50% mix", "x": -1.75, "lo": 2.155, "hi": 2.225}, {"b": "Obs 50% mix", "x": -1.5, "lo": 2.165, "hi": 2.265}, {"b": "Obs 50% mix", "x": -1.25, "lo": 2.185, "hi": 2.33}, {"b": "Obs 50% mix", "x": -1, "lo": 2.22, "hi": 2.45}, {"b": "Obs 50% mix", "x": -0.75, "lo": 2.32, "hi": 2.74}, {"b": "Obs 50% mix", "x": -0.5, "lo": 2.52, "hi": 3.04}, {"b": "Obs 50% mix", "x": -0.25, "lo": 2.79, "hi": 3.47}, {"b": "Obs 50% mix", "x": -0.1, "lo": 2.98, "hi": 3.66}, {"b": "Obs 50% mix", "x": 0, "lo": 3.14, "hi": 3.82}, {"b": "Obs 50% mix", "x": 0.1, "lo": 3.26, "hi": 4.02}, {"b": "Obs 50% mix", "x": 0.2, "lo": 3.37, "hi": 4.2},
      {"b": "Obs 25% mix", "x": -4, "lo": 2.145, "hi": 2.175}, {"b": "Obs 25% mix", "x": -3, "lo": 2.145, "hi": 2.18}, {"b": "Obs 25% mix", "x": -2.5, "lo": 2.15, "hi": 2.195}, {"b": "Obs 25% mix", "x": -2, "lo": 2.155, "hi": 2.21}, {"b": "Obs 25% mix", "x": -1.75, "lo": 2.16, "hi": 2.24}, {"b": "Obs 25% mix", "x": -1.5, "lo": 2.17, "hi": 2.29}, {"b": "Obs 25% mix", "x": -1.25, "lo": 2.19, "hi": 2.37}, {"b": "Obs 25% mix", "x": -1, "lo": 2.24, "hi": 2.53}, {"b": "Obs 25% mix", "x": -0.75, "lo": 2.36, "hi": 2.82}, {"b": "Obs 25% mix", "x": -0.5, "lo": 2.57, "hi": 3.12}, {"b": "Obs 25% mix", "x": -0.25, "lo": 2.84, "hi": 3.57}, {"b": "Obs 25% mix", "x": -0.1, "lo": 3.05, "hi": 3.76}, {"b": "Obs 25% mix", "x": 0, "lo": 3.22, "hi": 3.95}, {"b": "Obs 25% mix", "x": 0.1, "lo": 3.34, "hi": 4.15}, {"b": "Obs 25% mix", "x": 0.2, "lo": 3.45, "hi": 4.35}
    ],
    "vgrid": [{"x": -3}, {"x": -2}, {"x": -1}],
    "zero": [{"y": 0}],
    "hgold": [{"y": 3.21}],
    "vgold": [{"x": 0}]
  },
  "layer": [
    {
      "data": {"name": "cells"},
      "mark": {"type": "rect", "clip": true},
      "encoding": {
        "x": {
          "field": "x",
          "type": "quantitative",
          "bin": {"binned": true, "step": 0.093},
          "scale": {"domain": [-4, 0.6], "nice": false, "zero": false},
          "axis": {"values": [-4, -3, -2, -1, 0], "format": "d", "labelPadding": 2, "titlePadding": 3},
          "title": "[Fe/H]"
        },
        "y": {
          "field": "y",
          "type": "quantitative",
          "bin": {"binned": true, "step": 0.105},
          "scale": {"domain": [-1, 5], "nice": false, "zero": false},
          "axis": {"values": [-1, 0, 1, 2, 3, 4, 5], "format": "d", "labelPadding": 5, "titlePadding": 8},
          "title": "log₁₀(Li/H) + 12"
        },
        "color": {
          "field": "v",
          "type": "quantitative",
          "scale": {"domain": [0, 1], "range": ["#000000", "#ffffff"], "interpolate": "rgb"},
          "legend": null
        }
      }
    },
    {
      "data": {"name": "vgrid"},
      "mark": {"type": "rule", "color": "#b0b0b0", "strokeWidth": 1.1},
      "encoding": {"x": {"field": "x", "type": "quantitative"}}
    },
    {
      "data": {"name": "zero"},
      "mark": {"type": "rule", "color": "#d6d6d6", "strokeWidth": 1.4},
      "encoding": {"y": {"field": "y", "type": "quantitative"}}
    },
    {
      "data": {"name": "hgold"},
      "mark": {"type": "rule", "color": "#ffd700", "strokeWidth": 1.6},
      "encoding": {"y": {"field": "y", "type": "quantitative"}}
    },
    {
      "data": {"name": "vgold"},
      "mark": {"type": "rule", "color": "#ffd700", "strokeWidth": 1.6},
      "encoding": {"x": {"field": "x", "type": "quantitative"}}
    },
    {
      "data": {"name": "bands"},
      "mark": {"type": "area"},
      "encoding": {
        "x": {"field": "x", "type": "quantitative"},
        "y": {"field": "lo", "type": "quantitative"},
        "y2": {"field": "hi"},
        "fill": {
          "field": "b",
          "type": "nominal",
          "scale": {"domain": ["Obs 50% mix", "Obs 25% mix"], "range": ["rgba(128,128,128,0.2)", "rgba(173,216,230,0.5)"]},
          "legend": {
            "orient": "none",
            "legendX": 10.5,
            "legendY": 166.3,
            "zindex": 2,
            "title": null,
            "symbolType": "M-1,-0.45H2V0.45H-1Z",
            "symbolSize": 625,
            "symbolStrokeWidth": 0,
            "labelFontSize": 1,
            "labelExpr": "''",
            "labelOffset": 0,
            "rowPadding": 7.2,
            "padding": 4
          }
        }
      }
    },
    {
      "data": {"name": "curves"},
      "mark": {"type": "line", "strokeWidth": 2.5, "clip": true},
      "encoding": {
        "x": {"field": "x", "type": "quantitative"},
        "y": {"field": "y", "type": "quantitative"},
        "stroke": {
          "field": "s",
          "type": "nominal",
          "scale": {
            "domain": ["No novae", "J1998", "S2009/2020", "J2020", "R2017", "R2017simple", "Obs 50% mix", "Obs 25% mix"],
            "range": ["#000000", "#ffa500", "#0000ff", "#008000", "#800080", "#8b0000", "#000000", "#0000ff"]
          },
          "legend": {
            "orient": "none",
            "legendX": 9,
            "legendY": 13,
            "zindex": 1,
            "title": null,
            "symbolType": "M-1,0H2",
            "symbolSize": 625,
            "symbolStrokeWidth": 2.5,
            "labelFontSize": 17.5,
            "labelColor": "#000000",
            "labelOffset": 23,
            "labelLimit": 300,
            "rowPadding": 2.3,
            "padding": 4,
            "fillColor": "rgba(255,255,255,0.8)",
            "strokeColor": "rgba(204,204,204,0.8)",
            "cornerRadius": 4
          }
        },
        "strokeDash": {
          "field": "s",
          "type": "nominal",
          "scale": {
            "domain": ["No novae", "J1998", "S2009/2020", "J2020", "R2017", "R2017simple", "Obs 50% mix", "Obs 25% mix"],
            "range": [[1, 0], [1, 0], [9, 4], [1, 0], [1, 0], [1, 0], [2.5, 4.1], [2.5, 4.1]]
          }
        }
      }
    }
  ]
}
